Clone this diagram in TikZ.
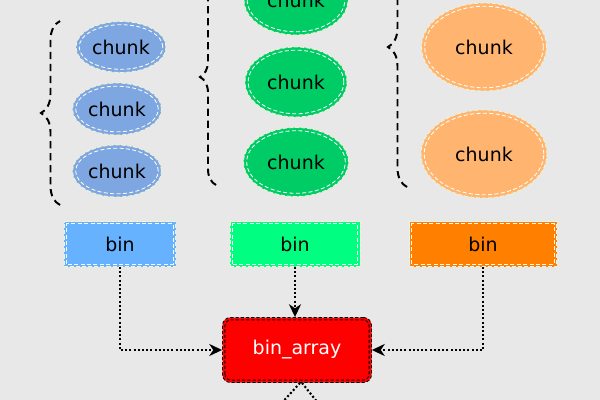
\documentclass[tikz,border=0pt]{standalone}
\usepackage{fontspec}
\setmainfont{DejaVu Sans}
\usepackage{xcolor}
\usetikzlibrary{arrows.meta, positioning, calc, shapes.geometric, decorations.pathreplacing}

\definecolor{bggray}{HTML}{E8E8E8}
\definecolor{paleedge}{HTML}{EEF6D2}
\definecolor{chunkblue}{HTML}{7EA6E0}
\definecolor{chunkgreen}{HTML}{00CC66}
\definecolor{chunkorange}{HTML}{FFB570}
\definecolor{binblue}{HTML}{66B2FF}
\definecolor{bingreen}{HTML}{00FF80}
\definecolor{binorange}{HTML}{FF8000}

\begin{document}
\begin{tikzpicture}[
    x=0.25mm, y=-0.25mm,
    >={Stealth[length=3.2mm,width=3mm,inset=1mm]},
    font=\fontsize{13.5}{16}\selectfont,
    chunk/.style   = {ellipse, draw=paleedge, dash pattern=on 1mm off 0.5mm,
                      line width=0.6pt, inner sep=0pt,
                      path picture={\draw[white, dash pattern=on 1mm off 0.6mm, line width=0.6pt]
                        let \p1=($(path picture bounding box.north east)-(path picture bounding box.center)$)
                        in (path picture bounding box.center) ellipse ({\x1-0.8mm} and {\y1-0.8mm});}},
    bin/.style     = {rectangle, draw=paleedge, dash pattern=on 1mm off 0.5mm,
                      line width=0.6pt, minimum height=11.25mm, inner sep=0pt,
                      path picture={\draw[white, dash pattern=on 1mm off 0.6mm, line width=0.6pt]
                        ([shift={(0.6mm,0.6mm)}]path picture bounding box.south west) rectangle
                        ([shift={(-0.6mm,-0.6mm)}]path picture bounding box.north east);}},
    merge/.style   = {rectangle, rounded corners=2mm, fill=red, text=white,
                      draw=black, dash pattern=on 0.8mm off 0.5mm, line width=0.6pt,
                      minimum width=37.25mm, minimum height=16.25mm,
                      path picture={\draw[black, rounded corners=1.5mm, dash pattern=on 0.8mm off 0.5mm, line width=0.6pt]
                        ([shift={(0.6mm,0.6mm)}]path picture bounding box.south west) rectangle
                        ([shift={(-0.6mm,-0.6mm)}]path picture bounding box.north east);}},
    bracket/.style = {decorate, line width=1.4pt, dash pattern=on 1.8mm off 1.2mm},
    link/.style    = {line width=1.5pt, dash pattern=on 0.5mm off 0.55mm},
]

\useasboundingbox (0,0) rectangle (600,400);
\fill[bggray] (0,0) rectangle (600,400);
\clip (0,0) rectangle (600,400);

% chunks of the blue bin
\node[chunk, fill=chunkblue, minimum width=22.5mm, minimum height=12.75mm] (cA1) at (121,47) {chunk};
\node[chunk, fill=chunkblue, minimum width=22.25mm, minimum height=13mm] (cA2) at (117,109) {chunk};
\node[chunk, fill=chunkblue, minimum width=22.25mm, minimum height=13mm] (cA3) at (117,171) {chunk};

% chunks of the green bin
\node[chunk, fill=chunkgreen, minimum width=26mm, minimum height=17.5mm] (cB1) at (296,0) {chunk};
\node[chunk, fill=chunkgreen, minimum width=25.5mm, minimum height=17.5mm] (cB2) at (296,82) {chunk};
\node[chunk, fill=chunkgreen, minimum width=26.25mm, minimum height=17.25mm] (cB3) at (296,162) {chunk};

% chunks of the orange bin
\node[chunk, fill=chunkorange, minimum width=31.25mm, minimum height=22mm] (cC1) at (484,47) {chunk};
\node[chunk, fill=chunkorange, minimum width=31.5mm, minimum height=22mm] (cC2) at (484,154) {chunk};

% braces
\draw[bracket, decoration={brace, amplitude=4.75mm}] (60,205) -- (60,21);
\draw[bracket, decoration={brace, amplitude=4mm}] (216,185) -- (216,-31);
\draw[bracket, decoration={brace, amplitude=4.75mm}] (407,187) -- (407,-93);

% bins
\node[bin, fill=binblue, minimum width=27.75mm] (binA) at (120,244) {bin};
\node[bin, fill=bingreen, minimum width=32.5mm] (binB) at (295,244) {bin};
\node[bin, fill=binorange, minimum width=36.75mm] (binC) at (483,244) {bin};

\node[merge] (binarray) at (297,350) {bin\_array};

\coordinate (outL) at (268,418);
\coordinate (outR) at (330,418);

\draw[link, ->] (binA) |- (binarray);
\draw[link, ->] (binB) -- (binB |- binarray.north);
\draw[link, ->] (binC) |- (binarray);
\draw[link] ([xshift=0.75mm]binarray.south) -- (outL);
\draw[link] ([xshift=1.25mm]binarray.south) -- (outR);

\end{tikzpicture}
\end{document}
